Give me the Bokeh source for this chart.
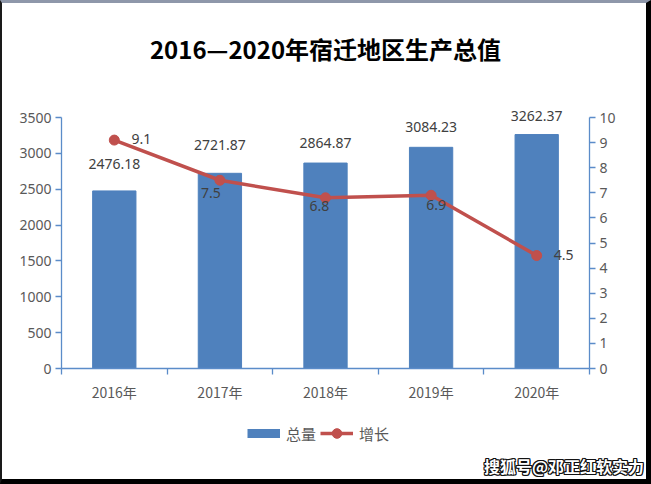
from bokeh.plotting import figure
from bokeh.layouts import column
from bokeh.models import (Range1d, LinearAxis, FixedTicker, ColumnDataSource, LabelSet,
                          Label, Legend, LegendItem, Div)
from bokeh.core.properties import value
from bokeh.embed import file_html
from bokeh.resources import INLINE

# ---- data ----
years = ["2016年", "2017年", "2018年", "2019年", "2020年"]
total = [2476.18, 2721.87, 2864.87, 3084.23, 3262.37]
growth = [9.1, 7.5, 6.8, 6.9, 4.5]
left_ticks = [0, 500, 1000, 1500, 2000, 2500, 3000, 3500]
right_ticks = [0, 1, 2, 3, 4, 5, 6, 7, 8, 9, 10]
left_max = 3500
right_max = 10
series_names = ["总量", "增长"]
title_text = "2016—2020年宿迁地区生产总值"
watermark = "搜狐号@邓正红软实力"

# ---- style offsets (px) ----
total_label_dy = [27, 28, 20, 20, 19]
growth_label_dx = [27, -9, -6, 5, 27]
growth_label_dy = [1, -13, -8, -10, 1]

xs = [i + 0.5 for i in range(len(years))]

BAR = "#4f81bd"
RED = "#c0504d"
AX = "#5b8cc9"
TXT = "#595959"
LBL = "#404040"
TICKFONT = "Noto Sans"
CJK = "Noto Sans CJK SC"

W = 651
FL, FR = 59, 587            # canvas x of left / right axis
AXIS_TOP, AXIS_ZERO = 114, 365
scale_h = AXIS_ZERO - AXIS_TOP
TOP_H = 408                 # page y where the legend strip starts
LEG_H = 42                  # legend strip height
WM_H = 484 - TOP_H - LEG_H  # watermark strip height

p = figure(width=W, height=TOP_H, x_range=Range1d(0, len(years)),
           y_range=Range1d(0, left_max * AXIS_ZERO / scale_h),
           output_backend="svg", toolbar_location=None,
           min_border_left=FL, min_border_top=0, min_border_right=W - FR,
           min_border_bottom=TOP_H - AXIS_ZERO)
p.styles = {"border-left": "2px solid #1a1a1a", "border-top": "3px solid #8e97aa",
            "border-right": "5px solid #000000", "box-sizing": "border-box"}
p.outline_line_color = None
p.xgrid.visible = False
p.ygrid.visible = False
p.border_fill_color = "white"

src = ColumnDataSource(dict(x=xs, total=total, growth=growth,
                            tl=[f"{v:.2f}" for v in total], gl=[f"{v}" for v in growth],
                            tdy=total_label_dy, gdx=growth_label_dx, gdy=growth_label_dy))

p.vbar(x="x", top="total", width=0.41, source=src, fill_color=BAR, line_color=BAR)

p.extra_y_ranges = {"g": Range1d(0, right_max * AXIS_ZERO / scale_h)}
p.line(x="x", y="growth", source=src, y_range_name="g", line_color=RED, line_width=3.5)
p.scatter(x="x", y="growth", source=src, y_range_name="g", size=10,
          fill_color=RED, line_color=RED)

ya = p.yaxis[0]
ya.ticker = FixedTicker(ticks=left_ticks)
ya.bounds = (0, left_max)
xa = p.xaxis[0]
xa.ticker = FixedTicker(ticks=xs, minor_ticks=list(range(len(years) + 1)))
xa.major_label_overrides = {x: y for x, y in zip(xs, years)}
ra = LinearAxis(y_range_name="g", ticker=FixedTicker(ticks=right_ticks),
                bounds=(0, right_max))
p.add_layout(ra, "right")

for a in [ya, xa, ra]:
    a.axis_line_color = AX
    a.axis_line_width = 1.3
    a.major_tick_line_color = AX
    a.major_tick_line_width = 1.3
    a.major_tick_in = 0
    a.major_tick_out = 6
    a.minor_tick_line_color = None
    a.major_label_text_color = TXT
    a.major_label_text_font = TICKFONT
    a.major_label_text_font_size = "14px"
    a.major_label_standoff = 4
xa.major_tick_line_color = None
xa.minor_tick_line_color = AX
xa.minor_tick_line_width = 1.3
xa.minor_tick_in = 0
xa.minor_tick_out = 6
xa.major_label_text_font = CJK
xa.major_label_standoff = 7

p.add_layout(LabelSet(x="x", y="total", text="tl", source=src, y_offset="tdy",
                      text_align="center", text_baseline="middle", text_color=LBL,
                      text_font=value(TICKFONT), text_font_size="14px"))
p.add_layout(LabelSet(x="x", y="growth", text="gl", source=src, y_range_name="g",
                      x_offset="gdx", y_offset="gdy",
                      text_align="center", text_baseline="middle", text_color=LBL,
                      text_font=value(TICKFONT), text_font_size="14px"))

p.add_layout(Label(x=323 - 2, y=45 - 3, x_units="canvas", y_units="canvas",
                   text=title_text, text_align="center", text_baseline="middle",
                   text_font=CJK, text_font_size="24px", text_font_style="bold",
                   text_color="black"))

# ---- legend strip ----
q = figure(width=W, height=LEG_H, x_range=Range1d(0, 1), y_range=Range1d(0, 1),
           output_backend="svg", toolbar_location=None, x_axis_type=None,
           y_axis_type=None, min_border=0)
q.styles = {"border-left": "2px solid #1a1a1a", "border-right": "5px solid #000000",
            "box-sizing": "border-box"}
q.outline_line_color = None
q.xgrid.visible = False
q.ygrid.visible = False

# legend proxies: one point each, placed outside the visible range
proxy = ColumnDataSource(dict(x=[-5], y=[-5]))
lb = q.line(x="x", y="y", source=proxy, line_color=BAR, line_width=9, line_cap="butt")
ll = q.line(x="x", y="y", source=proxy, line_color=RED, line_width=3.5)
lm = q.scatter(x="x", y="y", source=proxy, size=10, fill_color=RED, line_color=RED)

GH = 24
leg_center = 433 - TOP_H
legend = Legend(items=[LegendItem(label=series_names[0], renderers=[lb]),
                       LegendItem(label=series_names[1], renderers=[ll, lm])],
                orientation="horizontal",
                location=(247 - 2 - FL, LEG_H - leg_center - GH // 2),
                glyph_width=33, glyph_height=GH, label_standoff=6, spacing=4,
                padding=0, margin=0, border_line_color=None, background_fill_alpha=0,
                label_text_font=CJK, label_text_font_size="15px",
                label_text_color=TXT, label_height=GH)
q.add_layout(legend, "center")

# ---- watermark strip ----
shadow = ",".join(f"{dx}px {dy}px 0 #111" for dx, dy in
                  [(-1, 0), (1, 0), (0, -1), (0, 1), (-1, -1), (1, 1), (-1, 1), (1, -1)])
wm = Div(text=(f'<div style="width:642px;text-align:right;padding-top:5px;'
               f'line-height:22px;font-family:\'{CJK}\';font-size:16px;font-weight:bold;'
               f'color:#ffffff;text-shadow:{shadow};white-space:nowrap;">{watermark}</div>'),
         width=W, height=WM_H,
         styles={"border-left": "2px solid #1a1a1a", "border-right": "5px solid #000000",
                 "border-bottom": "5px solid #000000", "box-sizing": "border-box",
                 "background-color": "#ffffff", "margin": "0", "padding": "0",
                 "overflow": "hidden"})

open("out.html", "w").write(file_html(column(p, q, wm, spacing=0), INLINE))
